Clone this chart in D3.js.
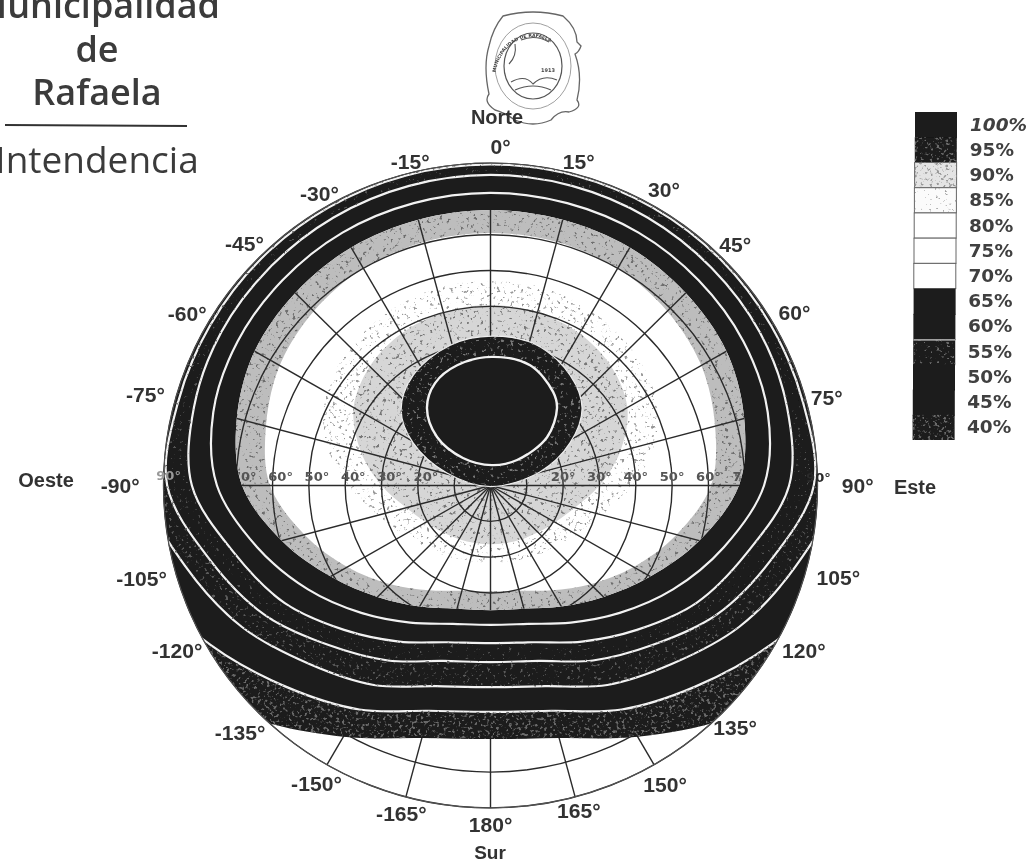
<!DOCTYPE html>
<html>
<head>
<meta charset="utf-8">
<script src="https://cdn.jsdelivr.net/npm/d3@7"></script>
<style>
  html, body { margin: 0; padding: 0; background: #fff; overflow: hidden; }
  text { fill: #2e2e2e; }
  .az { font: bold 21px "Liberation Sans", sans-serif; text-anchor: middle; fill: #333; }
  .tilt { font: bold 13px "DejaVu Sans", sans-serif; text-anchor: middle; fill: #555; }
  .leg { font: bold 18.5px "DejaVu Sans", sans-serif; fill: #3f3f3f; }
  .head { font-family: "Open Sans", sans-serif; text-anchor: middle; fill: #3a3a3a; }
</style>
</head>
<body>
<div id="chart"></div>
<script>
// Tilt in degrees of each contour, read at every 15 deg of azimuth (clockwise from north)
const azimuths = d3.range(0, 360, 15);
//                 0     15    30    45    60    75    90   105   120   135   150   165   180   195   210   225   240   255   270   285   300   315   330   345
const edge40 = [110,  110,  110,  110,  110,  110,  110,  110,  104,  92,   81,   73,   70.8, 73,   81,   92,   104,  110,  110,  110,  110,  110,  110,  110];
const edge45 = [110,  110,  110,  110,  110,  110,  110,  100,  89,   79.5, 72.2, 65.1, 63.2, 65.1, 72.2, 79.5, 89,   100,  110,  110,  110,  110,  110,  110];
const edge50 = [100,  100,  100,  100,  100,  100,  96,   87,   79,   70.5, 64.3, 58,   56.3, 58,   64.3, 70.5, 79,   87,   96,   100,  100,  100,  100,  100];
const edge55 = [89.6, 89.6, 89.5, 89.4, 89.2, 89.1, 89,   80,   72,   63,   56.4, 50.7, 49.3, 50.7, 56.4, 63,   72,   80,   89,   89.1, 89.2, 89.4, 89.5, 89.6];
const edge60 = [86.7, 86.6, 86.4, 86,   85.6, 84.5, 82.2, 73,   65.5, 57,   50.3, 45.3, 44,   45.3, 50.3, 57,   65.5, 73,   82.2, 84.5, 85.6, 86,   86.4, 86.6];
const edge65 = [81.7, 81.6, 81.5, 81,   80.4, 79,   75.3, 66.5, 58,   50.3, 44.2, 40,   38.9, 40,   44.2, 50.3, 58,   66.5, 75.3, 79,   80.4, 81,   81.5, 81.6];
const edge70 = [76.9, 76.8, 76.7, 76,   75,   72.3, 68.4, 59.5, 50.8, 44,   39,   35.6, 34.8, 35.6, 39,   44,   50.8, 59.5, 68.4, 72.3, 75,   76,   76.7, 76.8];
const edge75 = [70.5, 70.4, 70,   68.8, 67,   64,   60.7, 53,   45.5, 39,   33.8, 30.4, 29.5, 30.4, 33.8, 39,   45.5, 53,   60.7, 64,   67,   68.8, 70,   70.4];
const edge85 = [57,   57,   56,   54.5, 52,   47,   39,   32,   27.5, 24.5, 23,   21.8, 21.5, 21.8, 23,   24.5, 27.5, 32,   39,   47,   52,   54.5, 56,   57];
const edge90 = [50.4, 50,   49,   47,   43.5, 37,   30,   24,   20.5, 18.5, 17.3, 16.6, 16.4, 16.6, 17.3, 18.5, 20.5, 24,   30,   37,   43.5, 47,   49,   50];

// The two small contours do not go round the pole, so they keep their own azimuths
const edge95Az   = [0.6, 18.1, 35.4, 49.4, 61.5, 74.4, 180, 286.3, 299.2, 310.6, 325.3, 344.2];
const edge95Tilt = [41.7, 41.2, 37.8, 33.2, 24.9, 14.1, 0.3, 12.5, 24.4, 32.4, 37.4, 40.7];
const edge100Az   = [0.6, 18, 33.4, 40.3, 49.1, 45.8, 4, 315.4, 312.6, 321, 331.9, 344.7];
const edge100Tilt = [35.9, 35.3, 31.3, 28.3, 20.6, 10.2, 5.7, 10.8, 20, 27.8, 32.4, 34.8];

const gridAz = d3.range(0, 360, 15);
const gridTilt = [10, 20, 30, 40, 50, 60, 70, 80, 90];
const tiltLabels = [20, 30, 40, 50, 60, 70];

const azLabels = ["0°", "15°", "30°", "45°", "60°", "75°", "90°", "105°", "120°", "135°", "150°", "165°", "180°",
                  "-165°", "-150°", "-135°", "-120°", "-105°", "-90°", "-75°", "-60°", "-45°", "-30°", "-15°"];

const legendLabels = ["100%", "95%", "90%", "85%", "80%", "75%", "70%", "65%", "60%", "55%", "50%", "45%", "40%"];
const legendFill = ["dark", "stipple", "gray", "light", "white", "white", "white", "dark", "dark", "mottled", "dark", "dark", "stipple"];

const width = 1034;
const height = 863;
const cx = 490.5;
const cy = 485.5;
const outerR = 325;

const rad = d3.scaleLinear().domain([0, 90]).range([0, outerR]);
const ang = d3.scaleLinear().domain([0, 360]).range([0, 2 * Math.PI]);

const svg = d3.select("#chart").append("svg")
  .attr("width", width)
  .attr("height", height)
  .style("display", "block");

const defs = svg.append("defs");

// scan softening
defs.append("filter").attr("id", "soft")
  .attr("x", 0).attr("y", 0).attr("width", width).attr("height", height)
  .attr("filterUnits", "userSpaceOnUse")
  .append("feGaussianBlur").attr("stdDeviation", 0.6);

// speckle: keeps the source colour only where the noise passes a threshold
function speckle(id, freq, slope, cut) {
  const f = defs.append("filter").attr("id", id)
    .attr("x", 0).attr("y", 0).attr("width", 1).attr("height", 1);
  f.append("feTurbulence").attr("type", "fractalNoise")
    .attr("baseFrequency", freq).attr("numOctaves", 2).attr("seed", 7).attr("result", "n");
  f.append("feColorMatrix").attr("in", "n").attr("type", "matrix")
    .attr("values", `0 0 0 0 0  0 0 0 0 0  0 0 0 0 0  ${slope} 0 0 0 ${cut}`).attr("result", "a");
  f.append("feComposite").attr("in", "SourceGraphic").attr("in2", "a").attr("operator", "in");
}
speckle("grain", 0.32, 7, -3.9);
speckle("grainSparse", 0.3, 8, -4.9);
speckle("grainFaint", 0.33, 9, -6);

const radial = d3.lineRadial().curve(d3.curveCatmullRomClosed.alpha(0.5));

// closed contour through (azimuth, tilt) readings
function contour(az, tilt) {
  return radial(az.map((a, i) => [ang(a), rad(tilt[i])]));
}
const onGrid = (tilt) => contour(azimuths, tilt);
const disc = d3.arc().innerRadius(0).outerRadius(outerR).startAngle(0).endAngle(2 * Math.PI)();

defs.append("clipPath").attr("id", "inDisc").append("path").attr("d", disc);
defs.append("clipPath").attr("id", "inHollow").append("path").attr("d", onGrid(edge70));

const page = svg.append("g").attr("filter", "url(#soft)");

// Heading, runs off the top left like the scan
const head = page.append("g");
head.append("text").attr("class", "head").attr("x", 97).attr("y", 18)
  .style("font-size", "36px").style("font-weight", 600).text("Municipalidad");
head.append("text").attr("class", "head").attr("x", 97).attr("y", 62)
  .style("font-size", "36px").style("font-weight", 600).text("de");
head.append("text").attr("class", "head").attr("x", 97).attr("y", 105)
  .style("font-size", "36px").style("font-weight", 600).text("Rafaela");
head.append("line").attr("x1", 5).attr("x2", 187).attr("y1", 125).attr("y2", 126)
  .attr("stroke", "#333").attr("stroke-width", 2.2);
head.append("text").attr("class", "head").attr("x", 97).attr("y", 173)
  .style("font-size", "37px").style("font-weight", 400).text("Intendencia");

// Seal
const seal = page.append("g").attr("transform", "translate(533,66)");
seal.append("path")
  .attr("d", "M-30,-50 Q0,-58 30,-50 Q44,-38 44,-24 L48,-20 Q46,-14 42,-12 Q50,10 44,34 Q50,42 36,46 Q26,44 18,54 Q0,62 -18,54 Q-30,46 -38,44 Q-50,36 -44,28 Q-50,0 -44,-20 Q-40,-38 -30,-50 Z")
  .attr("fill", "none").attr("stroke", "#666").attr("stroke-width", 1.3);
seal.append("ellipse").attr("rx", 29).attr("ry", 33).attr("fill", "none").attr("stroke", "#555").attr("stroke-width", 1.2);
seal.append("ellipse").attr("rx", 38).attr("ry", 43).attr("fill", "none").attr("stroke", "#888").attr("stroke-width", 0.8);
defs.append("path").attr("id", "sealArc").attr("d", "M-38,14 A34,39 0 1 1 37,14");
seal.append("text").style("font", "bold 4.6px 'DejaVu Sans', sans-serif").style("fill", "#444")
  .append("textPath").attr("href", "#sealArc").attr("startOffset", "6%").text("MUNICIPALIDAD DE RAFAELA");
seal.append("text").attr("x", 8).attr("y", 6).style("font", "bold 5px 'DejaVu Sans', sans-serif").style("fill", "#444").text("1913");
seal.append("path").attr("d", "M-24,-2 Q-16,-10 -18,-22 M-22,16 Q-8,8 0,18 Q10,8 24,14 M-18,24 Q0,16 18,24 M-12,-26 Q2,-32 16,-24")
  .attr("fill", "none").attr("stroke", "#555").attr("stroke-width", 1.1);

// Polar diagram, the scan squeezes it a little in height
const polar = page.append("g").attr("transform", `translate(${cx},${cy}) scale(1.006,0.992)`);

function drawGrid(g) {
  const w = 1.4;
  g.selectAll(".ring").data(gridTilt).enter().append("circle")
    .attr("class", "ring")
    .attr("r", (d) => rad(d))
    .attr("fill", "none").attr("stroke", "#2a2a2a").attr("stroke-width", w);
  g.selectAll(".spoke").data(gridAz).enter().append("line")
    .attr("class", "spoke")
    .attr("x2", (d) => rad(90) * Math.sin(ang(d)))
    .attr("y2", (d) => -rad(90) * Math.cos(ang(d)))
    .attr("stroke", "#2a2a2a").attr("stroke-width", w);
}

polar.append("path").attr("d", disc).attr("fill", "#fff");
drawGrid(polar.append("g"));

const dark = "#1a1a1a";
const bands = polar.append("g").attr("clip-path", "url(#inDisc)");

// outer bands, dark with thin white contours between them
[edge40, edge45, edge50, edge55, edge60, edge65].forEach((edge, i) => {
  bands.append("path").attr("d", onGrid(edge))
    .attr("fill", dark)
    .attr("stroke", i === 0 ? "none" : "#f2f2f2")
    .attr("stroke-width", 2.2);
});
// stippled stretches: 40% foot and the 50% / 55% rings
bands.append("path").attr("d", onGrid(edge40) + onGrid(edge45)).attr("fill-rule", "evenodd")
  .attr("fill", "#6a6a6a").attr("filter", "url(#grain)");
bands.append("path").attr("d", onGrid(edge50) + onGrid(edge55)).attr("fill-rule", "evenodd")
  .attr("fill", "#5c5c5c").attr("filter", "url(#grainSparse)");
bands.append("path").attr("d", onGrid(edge55) + onGrid(edge60)).attr("fill-rule", "evenodd")
  .attr("fill", "#555").attr("filter", "url(#grainFaint)");

// inner hollow: gray rim, white floor, gray around the pole
polar.append("path").attr("d", onGrid(edge70)).attr("fill", "#fff");
polar.append("path").attr("d", onGrid(edge70) + onGrid(edge75)).attr("fill-rule", "evenodd")
  .attr("fill", "#bdbdbd");
polar.append("path").attr("d", onGrid(edge70) + onGrid(edge75)).attr("fill-rule", "evenodd")
  .attr("fill", "#6e6e6e").attr("filter", "url(#grainSparse)");
polar.append("path").attr("d", onGrid(edge85)).attr("fill", "#999").attr("filter", "url(#grainSparse)");
polar.append("path").attr("d", onGrid(edge90)).attr("fill", "#d6d6d6");
polar.append("path").attr("d", onGrid(edge90)).attr("fill", "#777").attr("filter", "url(#grainSparse)");

const hollow = polar.append("g").attr("clip-path", "url(#inHollow)");
drawGrid(hollow);

hollow.selectAll(".tiltL").data(tiltLabels).enter().append("text")
  .attr("class", "tilt")
  .attr("x", (d) => -rad(d) + 8)
  .attr("y", -5)
  .text((d) => d + "°");
hollow.selectAll(".tiltR").data(tiltLabels).enter().append("text")
  .attr("class", "tilt")
  .attr("x", (d) => rad(d))
  .attr("y", -5)
  .text((d) => d + "°");

// central blob, 95% ring and 100% core
polar.append("path").attr("d", contour(edge95Az, edge95Tilt))
  .attr("fill", dark).attr("stroke", "#eee").attr("stroke-width", 1.2);
polar.append("path").attr("d", contour(edge95Az, edge95Tilt))
  .attr("fill", "#777").attr("filter", "url(#grainSparse)");
polar.append("path").attr("d", contour(edge100Az, edge100Tilt))
  .attr("fill", dark).attr("stroke", "#f2f2f2").attr("stroke-width", 2.4);

polar.append("circle").attr("r", outerR)
  .attr("fill", "none").attr("stroke", "#555").attr("stroke-width", 1);

// tilt 90 marks sitting on the rim
polar.append("text").attr("class", "tilt").attr("x", outerR + 1).attr("y", -4).style("fill", "#2a2a2a").text("90°");
polar.append("text").attr("class", "tilt").attr("x", -outerR + 5).attr("y", -6).style("fill", "#999").text("90°");

// Azimuth labels, pushed out from the rim as far as the scan has them
const labelGap = [17, 14, 20, 19, 24, 21, 40, 33, 29, 19, 22, 14, 16, 17, 21, 27, 29, 34, 43, 30, 23, 21, 15, 14];
const labelNudge = { 0: [10, 0], 8: [5, -11], 16: [-5, -11], 23: [8, 0] };
const nudge = (i) => labelNudge[i] || [0, 0];
polar.selectAll(".az").data(azLabels).enter().append("text")
  .attr("class", "az")
  .attr("x", (d, i) => (outerR + labelGap[i]) * Math.sin(ang(gridAz[i])) + nudge(i)[0])
  .attr("y", (d, i) => -(outerR + labelGap[i]) * Math.cos(ang(gridAz[i])) + 8 + nudge(i)[1])
  .text((d) => d);

page.append("text").attr("class", "az").attr("x", 497).attr("y", 124).style("font-size", "20px").text("Norte");
page.append("text").attr("class", "az").attr("x", 490).attr("y", 859).style("font-size", "19px").text("Sur");
page.append("text").attr("class", "az").attr("x", 46).attr("y", 487).style("font-size", "20px").text("Oeste");
page.append("text").attr("class", "az").attr("x", 915).attr("y", 494).style("font-size", "20px").text("Este");

// Legend
const legY = d3.scaleBand().domain(legendLabels).range([112, 440]);
const legend = page.append("g");
const swatch = legend.selectAll(".swatch").data(legendLabels).enter().append("g")
  .attr("class", "swatch")
  .attr("transform", (d, i) => `translate(${915 - i * 0.2},${legY(d)})`);
const legW = 42;
const isDark = (i) => legendFill[i] === "dark" || legendFill[i] === "stipple" || legendFill[i] === "mottled";
swatch.append("rect")
  .attr("width", legW)
  .attr("height", (d, i) => legY.bandwidth() + (isDark(i) && i < 12 ? 1 : 0))
  .attr("fill", (d, i) => ({ dark, stipple: dark, mottled: dark, gray: "#e4e4e4", light: "#fbfbfb", white: "#fff" })[legendFill[i]])
  .attr("stroke", (d, i) => isDark(i) ? "none" : "#666")
  .attr("stroke-width", 1);
swatch.filter((d, i) => legendFill[i] !== "dark" && legendFill[i] !== "white").append("rect")
  .attr("width", legW)
  .attr("height", legY.bandwidth())
  .attr("fill", (d) => (d === "85%" || d === "90%") ? "#999" : "#6a6a6a")
  .attr("filter", (d) => d === "85%" ? "url(#grainFaint)" : d === "55%" ? "url(#grainSparse)" : "url(#grain)");
swatch.filter((d) => d === "55%").append("rect")
  .attr("width", legW).attr("height", 1.6).attr("fill", "#aaa");
legend.selectAll(".leg").data(legendLabels).enter().append("text")
  .attr("class", "leg")
  .attr("x", (d, i) => 970 - i * 0.25)
  .attr("y", (d) => legY(d) + legY.bandwidth() / 2 + 6)
  .style("font-style", (d) => d === "100%" ? "italic" : "normal")
  .text((d) => d);
</script>
</body>
</html>
